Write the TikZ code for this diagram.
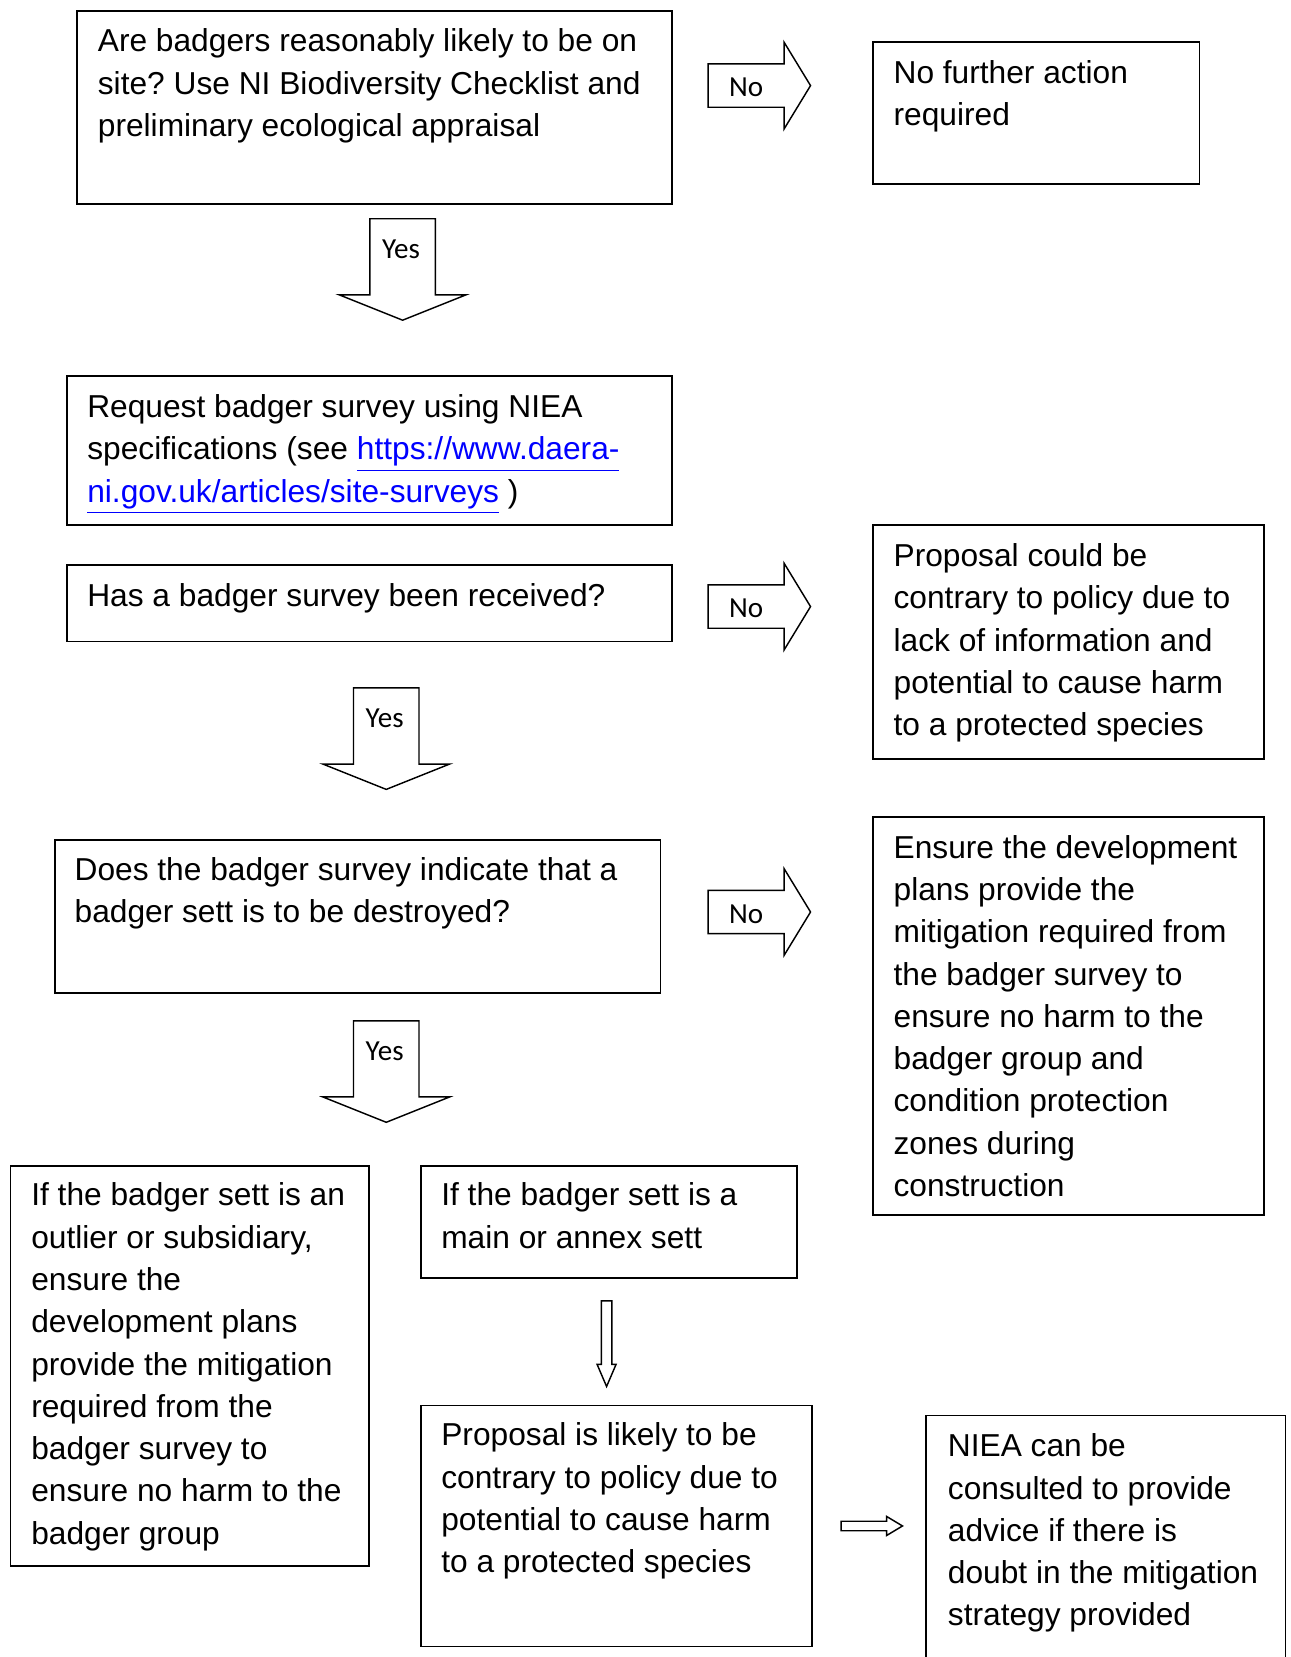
\documentclass[tikz,border=0pt]{standalone}
\usepackage{fontspec}
\setmainfont{Liberation Sans}
\newfontfamily\calibri{Carlito}
\usetikzlibrary{fit}
\definecolor{linkblue}{RGB}{0,0,255}
\newcommand\boxfont{\fontsize{12}{16}\selectfont\frenchspacing}
\newcommand\weblink[1]{\textcolor{linkblue}{\underline{#1}}}
\tikzset{
  box/.style={draw, line width=0.7pt, inner sep=0pt},
  openbox/.style={inner sep=0pt},
  boxline/.style={line width=0.7pt},
  txt/.style={anchor=north west, inner sep=0pt, align=left, font=\boxfont},
  blockarrow/.style={draw, line width=0.55pt, fill=white, line join=miter},
  arrowlbl/.style={inner sep=0pt, font=\calibri\fontsize{11}{13}\selectfont},
  noarrow/.pic={
    \draw[blockarrow] (0,-20.5) -- (72,-20.5) -- (72,-41) -- (97,0)
      -- (72,41) -- (72,20.5) -- (0,20.5) -- cycle;
    \node[arrowlbl] (-lbl) at (36,2) {No};
  },
  yesarrow/.pic={
    \draw[blockarrow] (-31,0) -- (31,0) -- (31,72) -- (60,72) -- (0,96)
      -- (-60,72) -- (-31,72) -- cycle;
    \node[arrowlbl] (-lbl) at (-1.5,29) {Yes};
  },
  thindown/.pic={
    \draw[blockarrow] (-5,0) -- (5,0) -- (5,60) -- (9,60) -- (0,81)
      -- (-9,60) -- (-5,60) -- cycle;
  },
  thinright/.pic={
    \draw[blockarrow] (0,-4.5) -- (43,-4.5) -- (43,-9) -- (58,0)
      -- (43,9) -- (43,4.5) -- (0,4.5) -- cycle;
  },
}

\begin{document}
\begin{tikzpicture}[x=0.4pt, y=-0.4pt]
  \useasboundingbox (0,0) rectangle (1221,1568);

  % boxes
  \node[box, fit={(73,10) (636,193)}] (q1) {};
  \node[box, fit={(826,40) (1135,174)}] (nofurther) {};
  \node[box, fit={(63,356) (636,497)}] (request) {};
  \node[box, fit={(63,535) (636,607)}] (received) {};
  \node[box, fit={(826,497) (1196,718)}] (contrary) {};
  \node[box, fit={(52,795) (625,940)}] (destroyed) {};
  \node[box, fit={(826,773) (1196,1150)}] (ensure) {};
  \node[box, fit={(10,1103) (349,1482)}] (outlier) {};
  \node[box, fit={(398,1103) (754,1209)}] (mainsett) {};
  \node[box, fit={(398,1330) (768,1558)}] (likely) {};
  \node[openbox, fit={(877,1340) (1216,1568)}] (consult) {};
  \draw[boxline] (consult.south west) |- (consult.north east) -- (consult.south east);

  % box texts
  \node[txt] (q1t) at ([shift={(20,11.5)}]q1.north west)
    {\strut Are badgers reasonably likely to be on\\site? Use NI Biodiversity Checklist and\\preliminary ecological appraisal};
  \node[txt] (nofurthert) at ([shift={(20,11.5)}]nofurther.north west)
    {\strut No further action\\required};
  \node[txt] (requestt) at ([shift={(20,11.5)}]request.north west)
    {\strut Request badger survey using NIEA\\specifications (see \weblink{https://www.daera-}\\\weblink{ni.gov.uk/articles/site-surveys} )};
  \node[txt] (receivedt) at ([shift={(20,11.5)}]received.north west)
    {\strut Has a badger survey been received?};
  \node[txt] (contraryt) at ([shift={(20,11.5)}]contrary.north west)
    {\strut Proposal could be\\contrary to policy due to\\lack of information and\\potential to cause harm\\to a protected species};
  \node[txt] (destroyedt) at ([shift={(19,10.5)}]destroyed.north west)
    {\strut Does the badger survey indicate that a\\badger sett is to be destroyed?};
  \node[txt] (ensuret) at ([shift={(20,11.5)}]ensure.north west)
    {\strut Ensure the development\\plans provide the\\mitigation required from\\the badger survey to\\ensure no harm to the\\badger group and\\condition protection\\zones during\\construction};
  \node[txt] (outliert) at ([shift={(20,10.5)}]outlier.north west)
    {\strut If the badger sett is an\\outlier or subsidiary,\\ensure the\\development plans\\provide the mitigation\\required from the\\badger survey to\\ensure no harm to the\\badger group};
  \node[txt] (mainsettt) at ([shift={(20,10.5)}]mainsett.north west)
    {\strut If the badger sett is a\\main or annex sett};
  \node[txt] (likelyt) at ([shift={(20,10.5)}]likely.north west)
    {\strut Proposal is likely to be\\contrary to policy due to\\potential to cause harm\\to a protected species};
  \node[txt] (consultt) at ([shift={(20,10.5)}]consult.north west)
    {\strut NIEA can be\\consulted to provide\\advice if there is\\doubt in the mitigation\\strategy provided};

  % block arrows
  \pic (no1) at (670,81) {noarrow};
  \pic (no2) at (670,574) {noarrow};
  \pic (no3) at (670,863) {noarrow};
  \pic (yes1) at (381,207) {yesarrow};
  \pic (yes2) at (365.5,651) {yesarrow};
  \pic (yes3) at (365.5,966) {yesarrow};
  \pic (down1) at (574,1231) {thindown};
  \pic (right1) at (796,1444) {thinright};
\end{tikzpicture}
\end{document}
